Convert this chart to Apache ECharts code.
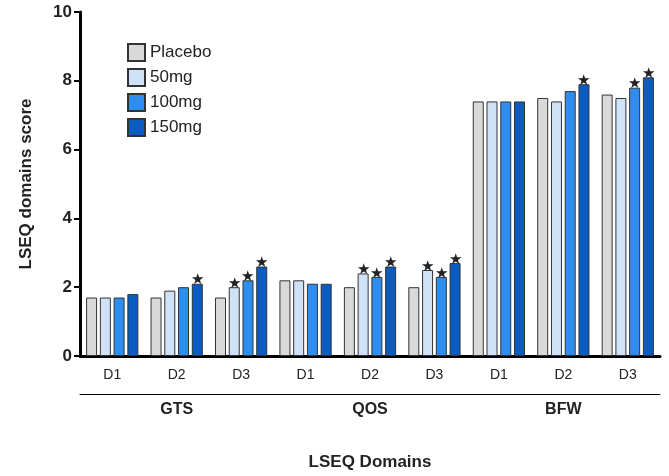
<!DOCTYPE html>
<html><head><meta charset="utf-8">
<script src="https://cdn.jsdelivr.net/npm/echarts@6/dist/echarts.min.js"></script>
<style>body{margin:0}#main{width:669px;height:476px}</style></head>
<body><div id="main"></div>
<script>
var categories = ['D1','D2','D3','D1','D2','D3','D1','D2','D3'];
var groups = ['GTS','QOS','BFW'];
var placebo = [1.7,1.7,1.7,2.2,2.0,2.0,7.4,7.5,7.6];
var mg50    = [1.7,1.9,2.0,2.2,2.4,2.5,7.4,7.4,7.5];
var mg100   = [1.7,2.0,2.2,2.1,2.3,2.3,7.4,7.7,7.8];
var mg150   = [1.8,2.1,2.6,2.1,2.6,2.7,7.4,7.9,8.1];
var sig50   = [0,0,1,0,1,1,0,0,0];
var sig100  = [0,0,1,0,1,1,0,0,1];
var sig150  = [0,1,1,0,1,1,0,1,1];
var yTicks = [0,2,4,6,8,10];

function mk(name, data, sig, color) {
  return {
    name: name, type: 'bar', data: data, barWidth: 11, barGap: '25%',
    itemStyle: {color: color, borderColor: '#333', borderWidth: 1},
    label: {show: true, position: 'top', distance: -4, fontSize: 15, color: '#222',
      formatter: function (p) { return sig && sig[p.dataIndex] ? '★' : ''; }}
  };
}
var chart = echarts.init(document.getElementById('main'));
chart.setOption({
  animation: false,
  grid: {left: 80, right: 9, top: 12, bottom: 110},
  legend: {orient: 'vertical', left: 122, top: 38, icon: 'rect', itemWidth: 17, itemHeight: 17, itemGap: 6,
    textStyle: {fontSize: 17, color: '#222', fontFamily: 'Liberation Sans'}},
  xAxis: [{
    type: 'category', data: categories,
    axisLine: {lineStyle: {color: '#000', width: 3}}, axisTick: {show: false},
    axisLabel: {fontSize: 14, color: '#222', margin: 12, fontFamily: 'Liberation Sans'}
  }, {
    type: 'category', data: groups, position: 'bottom', offset: 38,
    axisLine: {lineStyle: {color: '#000', width: 1}}, axisTick: {show: false},
    axisLabel: {fontSize: 16, fontWeight: 'bold', color: '#222', margin: 8, fontFamily: 'Liberation Sans'},
    name: 'LSEQ Domains', nameLocation: 'middle', nameGap: 60,
    nameTextStyle: {fontSize: 17, fontWeight: 'bold', color: '#222', fontFamily: 'Liberation Sans'}
  }],
  yAxis: {
    type: 'value', min: 0, max: 10, interval: 2,
    name: 'LSEQ domains score', nameLocation: 'middle', nameGap: 45,
    nameTextStyle: {fontSize: 17, fontWeight: 'bold', color: '#222', fontFamily: 'Liberation Sans'},
    axisLine: {show: true, lineStyle: {color: '#000', width: 3}},
    axisTick: {show: true, length: 6, lineStyle: {width: 2}},
    splitLine: {show: false},
    axisLabel: {fontSize: 17, fontWeight: 'bold', color: '#222', fontFamily: 'Liberation Sans',
      formatter: function (v) { return yTicks.indexOf(v) >= 0 ? String(v) : ''; }}
  },
  series: [
    mk('Placebo', placebo, null, '#d9d9d9'),
    mk('50mg', mg50, sig50, '#cfe2f8'),
    mk('100mg', mg100, sig100, '#2e8ef0'),
    mk('150mg', mg150, sig150, '#0a5cc0')
  ]
});
</script></body></html>
